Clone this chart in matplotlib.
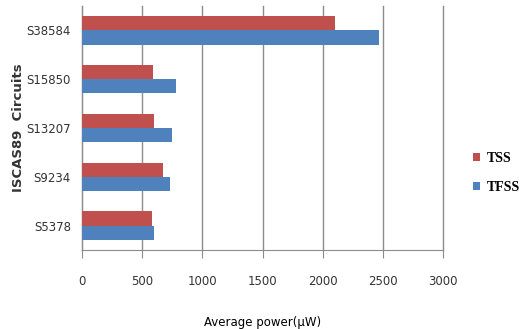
import numpy as np
import matplotlib.pyplot as plt

# Datos (de abajo hacia arriba)
circuits = ['S5378', 'S9234', 'S13207', 'S15850', 'S38584']
tss = [582, 676, 598, 590, 2100]
tfss = [598, 731, 748, 779, 2465]

fig = plt.figure(figsize=(5.23, 3.29), dpi=100)
ax = fig.add_axes([82 / 523, 1 - 250 / 329, 361 / 523, 244 / 329])

y = np.arange(len(circuits))
h = 0.29
ax.barh(y + h / 2, tss, height=h, color='#C0504D', label='TSS', zorder=3)
ax.barh(y - h / 2, tfss, height=h, color='#4F81BD', label='TFSS', zorder=3)

ax.set_xlim(0, 3000)
ax.set_ylim(-0.5, len(circuits) - 0.5)
ax.set_xticks(np.arange(0, 3001, 500))
ax.set_yticks(y)
ax.set_yticklabels(circuits)
ax.xaxis.grid(True, color='#8c8c8c', linewidth=1, zorder=0)
for gl in ax.get_xgridlines():
    gl.set_clip_on(False)

for s in ['top', 'right']:
    ax.spines[s].set_visible(False)
ax.spines['left'].set_color('#8c8c8c')
ax.spines['bottom'].set_color('#8c8c8c')
ax.tick_params(axis='x', length=6, color='#8c8c8c', pad=12, labelsize=8.5)
ax.tick_params(axis='y', length=0, pad=8, labelsize=8.5)
for lab in ax.get_xticklabels() + ax.get_yticklabels():
    lab.set_color('#333333')

ax.set_xlabel('Average power(µW)', fontsize=8.5, labelpad=20)
ax.set_ylabel('ISCAS89  Circuits', fontsize=9.5, fontweight='bold', labelpad=1,
              color='#333333')

leg = fig.legend(loc='center left', bbox_to_anchor=(473 / 523, 1 - 173 / 329),
                 frameon=False, handlelength=0.5, handleheight=0.5,
                 labelspacing=1.2, handletextpad=0.5, borderaxespad=0,
                 borderpad=0,
                 prop={'family': 'Liberation Serif', 'weight': 'bold', 'size': 10})

fig.savefig('out.png', dpi=100)
